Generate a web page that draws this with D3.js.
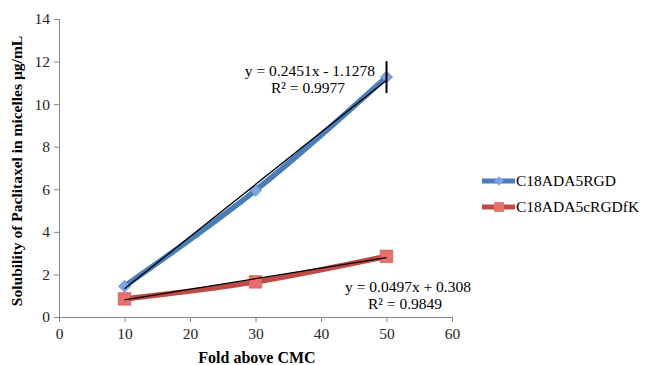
<!DOCTYPE html>
<html>
<head>
<meta charset="utf-8">
<script src="https://cdn.jsdelivr.net/npm/d3@7"></script>
<style>
  body { margin: 0; background: #fff; }
  svg { display: block; }
  svg text { font-family: "Liberation Serif", "Times New Roman", serif; }
</style>
</head>
<body>
<svg id="chart" width="646" height="365"></svg>
<script>
const foldValues = [10, 30, 50];
const rgdValues = [1.45, 5.95, 11.27];
const crgdValues = [0.85, 1.65, 2.85];
const rgdError = [0, 0, 0.75];
const xTicks = [0, 10, 20, 30, 40, 50, 60];
const yTicks = [0, 2, 4, 6, 8, 10, 12, 14];
const seriesNames = ["C18ADA5RGD", "C18ADA5cRGDfK"];
const trendCoef = [[0.2451, -1.1278], [0.0497, 0.308]];
const trendLabels = [["y = 0.2451x - 1.1278", "R² = 0.9977"], ["y = 0.0497x + 0.308", "R² = 0.9849"]];

const svg = d3.select("#chart");
const axisColor = "#868686";

const x = d3.scaleLinear().domain([0, 60]).range([59, 452]);
const y = d3.scaleLinear().domain([0, 14]).range([317, 19]);

// axes
const xAxis = svg.append("g")
  .attr("transform", `translate(0,${y(0)})`)
  .call(d3.axisBottom(x).tickValues(xTicks).tickSize(5).tickPadding(6));
const yAxis = svg.append("g")
  .attr("transform", `translate(${x(0)},0)`)
  .call(d3.axisLeft(y).tickValues(yTicks).tickSize(5).tickPadding(4));

[xAxis, yAxis].forEach((g) => {
  g.attr("font-family", null).attr("font-size", null);
  g.select(".domain").attr("stroke", axisColor);
  g.selectAll(".tick line").attr("stroke", axisColor);
  g.selectAll(".tick text")
    .attr("fill", "#262626")
    .style("font-size", "15.5px");
});

svg.append("text")
  .attr("x", 257).attr("y", 363)
  .attr("text-anchor", "middle")
  .style("font-weight", "bold").style("font-size", "16px")
  .text("Fold above CMC");

svg.append("text")
  .attr("transform", "translate(22,171) rotate(-90)")
  .attr("text-anchor", "middle")
  .style("font-weight", "bold").style("font-size", "15.5px")
  .text("Solubility of Paclitaxel in micelles µg/mL");

// blue diamonds are squares turned 45 degrees
const series = [
  { name: seriesNames[0], values: rgdValues, line: "#4a7ebb", fill: "#7ea4e2", size: 72, rot: 45 },
  { name: seriesNames[1], values: crgdValues, line: "#be4b48", fill: "#e8706c", size: 160, rot: 0 },
];

const lineGen = d3.line()
  .x((d) => x(d[0]))
  .y((d) => y(d[1]))
  .curve(d3.curveCatmullRom.alpha(0.5));

series.forEach((s, i) => {
  const pts = foldValues.map((f, j) => [f, s.values[j]]);
  svg.append("path")
    .datum(pts)
    .attr("d", lineGen)
    .attr("fill", "none")
    .attr("stroke", s.line)
    .attr("stroke-width", 5.5)
    .attr("stroke-linejoin", "round")
    .attr("stroke-linecap", "round");

  svg.append("g").selectAll("path")
    .data(pts)
    .join("path")
    .attr("transform", (d) => `translate(${x(d[0])},${y(d[1])}) rotate(${s.rot})`)
    .attr("d", d3.symbol().type(d3.symbolSquare).size(s.size))
    .attr("fill", s.fill)
    .attr("stroke", s.line)
    .attr("stroke-opacity", 0.5)
    .attr("stroke-width", 1);
});

// error bars (blue series)
svg.append("g").selectAll("line")
  .data(foldValues.map((f, j) => [f, rgdValues[j], rgdError[j]]).filter((d) => d[2] > 0))
  .join("line")
  .attr("x1", (d) => x(d[0])).attr("x2", (d) => x(d[0]))
  .attr("y1", (d) => y(d[1] + d[2])).attr("y2", (d) => y(d[1] - d[2]))
  .attr("stroke", "#000").attr("stroke-width", 2);

// linear trendlines
trendCoef.forEach(([m, b]) => {
  svg.append("line")
    .attr("x1", x(10)).attr("y1", y(m * 10 + b))
    .attr("x2", x(50)).attr("y2", y(m * 50 + b))
    .attr("stroke", "#000").attr("stroke-width", 1.3);
});

// trendline labels
const labelPos = [[375, 76, 308, 93], [471, 292, 405, 309]];
trendLabels.forEach((lines, i) => {
  const p = labelPos[i];
  svg.append("text").attr("x", p[0]).attr("y", p[1])
    .attr("text-anchor", "end").style("font-size", "15.5px").text(lines[0]);
  svg.append("text").attr("x", p[2]).attr("y", p[3])
    .attr("text-anchor", "middle").style("font-size", "15.5px").text(lines[1]);
});

// legend
const legend = svg.append("g");
series.forEach((s, i) => {
  const ly = 181 + i * 26;
  legend.append("line")
    .attr("x1", 482).attr("x2", 515).attr("y1", ly).attr("y2", ly)
    .attr("stroke", s.line).attr("stroke-width", 5);
  legend.append("path")
    .attr("transform", `translate(499,${ly}) rotate(${s.rot})`)
    .attr("d", d3.symbol().type(d3.symbolSquare).size(s.size * 0.6))
    .attr("fill", s.fill);
  legend.append("text")
    .attr("x", 516).attr("y", ly + 5)
    .style("font-size", "15.5px")
    .text(s.name);
});
</script>
</body>
</html>
